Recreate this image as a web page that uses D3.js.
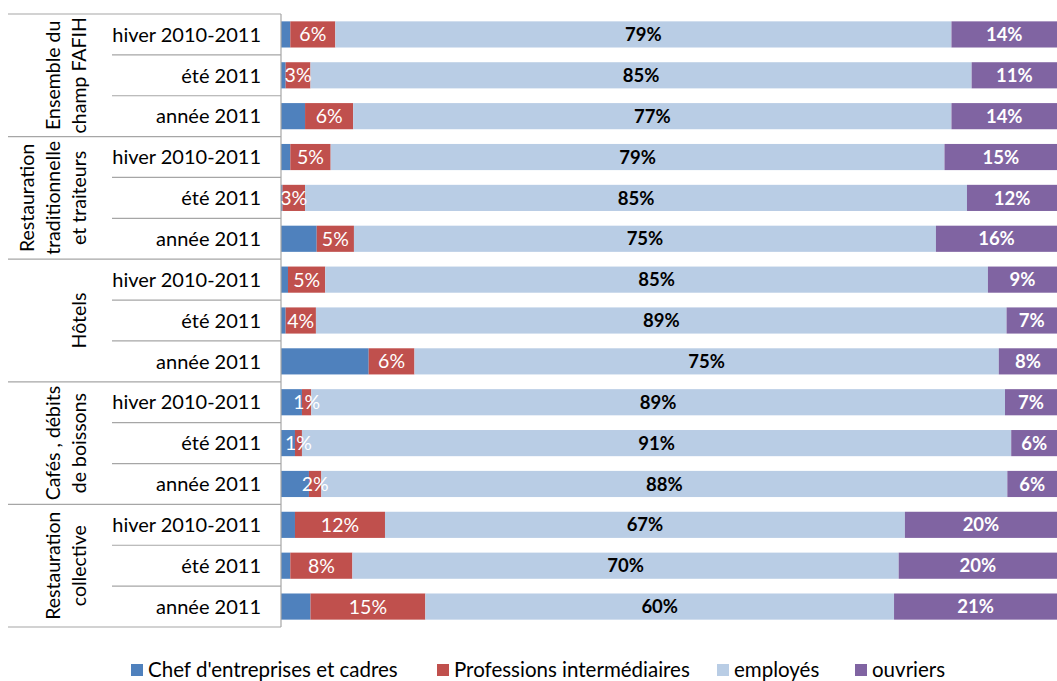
<!DOCTYPE html>
<html>
<head>
<meta charset="utf-8">
<script src="https://cdn.jsdelivr.net/npm/d3@7"></script>
<style>
  body { margin: 0; background: #fff; }
  svg { display: block; font-family: Lato, "Open Sans", sans-serif; }
</style>
</head>
<body>
<div id="container"></div>
<script>
/* DATA */
const groups = [
  ["Ensemble du", "champ FAFIH"],
  ["Restauration", "traditionnelle", "et traiteurs"],
  ["Hôtels"],
  ["Cafés , débits", "de boissons"],
  ["Restauration", "collective"]
]
const periods = ["hiver 2010-2011", "été 2011", "année 2011"]
const seriesNames = ["Chef d'entreprises et cadres", "Professions intermédiaires", "employés", "ouvriers"]

// one value per row, top to bottom (5 groups x 3 periods)
const cadres = [1.2, 0.6, 3.1, 1.2, 0.2, 4.6, 0.9, 0.6, 11.3, 2.7, 1.8, 3.6, 1.8, 1.2, 3.8]
const intermediaires = [5.8, 3.2, 6.2, 5.2, 2.9, 4.8, 4.8, 3.9, 5.9, 1.2, 0.9, 1.6, 11.6, 8.0, 14.8]
const employes = [79.4, 85.2, 77.1, 79.1, 85.3, 75.0, 85.4, 89.0, 75.3, 89.4, 91.4, 88.4, 67.0, 70.4, 60.4]
const ouvriers = [13.6, 11.0, 13.6, 14.5, 11.6, 15.6, 8.9, 6.5, 7.5, 6.7, 5.9, 6.4, 19.6, 20.4, 21.0]

/* CONSTANTS */
const width = 1057, height = 681
const margin = { top: 14, bottom: 54, left: 281, right: 0 }
const colors = ["#4f81bd", "#c0504d", "#b9cde5", "#8064a2"]
const keys = ["cadres", "intermediaires", "employes", "ouvriers"]

const rows = []
groups.forEach((g, gi) => {
  periods.forEach((p, pi) => {
    const i = gi * 3 + pi
    rows.push({
      id: i, group: gi, period: p,
      cadres: cadres[i], intermediaires: intermediaires[i],
      employes: employes[i], ouvriers: ouvriers[i]
    })
  })
})

const svg = d3.select("#container")
  .append("svg")
  .attr("width", width)
  .attr("height", height)

const xScale = d3.scaleLinear()
  .domain([0, 1])
  .range([margin.left, width - margin.right])

const yScale = d3.scaleBand()
  .domain(rows.map(d => d.id))
  .range([margin.top, height - margin.bottom])
  .paddingInner(0.36)
  .paddingOuter(0.18)

const stacked = d3.stack()
  .keys(keys)
  .offset(d3.stackOffsetExpand)(rows)

// bars
const layer = svg.selectAll("g.layer")
  .data(stacked)
  .join("g")
  .attr("class", "layer")
  .attr("fill", (d, i) => colors[i])

layer.selectAll("rect")
  .data(d => d)
  .join("rect")
  .attr("x", d => xScale(d[0]))
  .attr("width", d => xScale(d[1]) - xScale(d[0]))
  .attr("y", d => yScale(d.data.id))
  .attr("height", yScale.bandwidth())

// labels on the 3 labelled series (no label on the first one)
const labelStyle = [null,
  { fill: "#fff", weight: "normal", size: 19.5 },
  { fill: "#000", weight: "bold", size: 18.5 },
  { fill: "#fff", weight: "bold", size: 18.5 }]

stacked.forEach((s, si) => {
  if (si === 0) return
  const st = labelStyle[si]
  svg.append("g")
    .selectAll("text")
    .data(s)
    .join("text")
    .attr("x", d => (xScale(d[0]) + xScale(d[1])) / 2)
    .attr("y", d => yScale(d.data.id) + yScale.bandwidth() / 2)
    .attr("dy", "0.36em")
    .attr("text-anchor", "middle")
    .attr("fill", st.fill)
    .attr("font-weight", st.weight)
    .attr("font-size", st.size)
    .text(d => Math.round(d.data[keys[si]]) + "%")
})

// category axis, two levels
const axisColor = "#a6a6a6"
const ax = svg.append("g").attr("stroke", axisColor).attr("stroke-width", 1.2)

ax.append("line")
  .attr("x1", margin.left).attr("x2", margin.left)
  .attr("y1", margin.top).attr("y2", height - margin.bottom)

// boundaries between rows, longer ones between groups
const edges = d3.range(rows.length + 1).map(i => margin.top + i * (height - margin.top - margin.bottom) / rows.length)
edges.forEach((y, i) => {
  const isGroup = i % 3 === 0
  ax.append("line")
    .attr("x1", isGroup ? 8 : 112)
    .attr("x2", margin.left)
    .attr("y1", y).attr("y2", y)
})

// period labels
svg.append("g")
  .selectAll("text")
  .data(rows)
  .join("text")
  .attr("x", 261)
  .attr("y", d => yScale(d.id) + yScale.bandwidth() / 2)
  .attr("dy", "0.36em")
  .attr("text-anchor", "end")
  .attr("font-size", 20)
  .attr("fill", "#000")
  .text(d => d.period)

// group labels (rotated)
groups.forEach((g, gi) => {
  const yc = (edges[gi * 3] + edges[gi * 3 + 3]) / 2
  const lineH = 26
  const n = g.length
  g.forEach((line, li) => {
    const xc = 79 - (n - 1 - li) * lineH
    svg.append("text")
      .attr("transform", `translate(${xc + 7},${yc}) rotate(-90)`)
      .attr("text-anchor", "middle")
      .attr("font-size", 19.5)
      .attr("fill", "#000")
      .text(line)
  })
})

// legend
const legendX = [131, 437, 717, 855]
const legend = svg.append("g")
seriesNames.forEach((name, i) => {
  legend.append("rect")
    .attr("x", legendX[i]).attr("y", 664)
    .attr("width", 12).attr("height", 12)
    .attr("fill", colors[i])
  legend.append("text")
    .attr("x", legendX[i] + 17).attr("y", 670)
    .attr("dy", "0.36em")
    .attr("font-size", 20.5)
    .attr("fill", "#000")
    .text(name)
})
</script>
</body>
</html>
